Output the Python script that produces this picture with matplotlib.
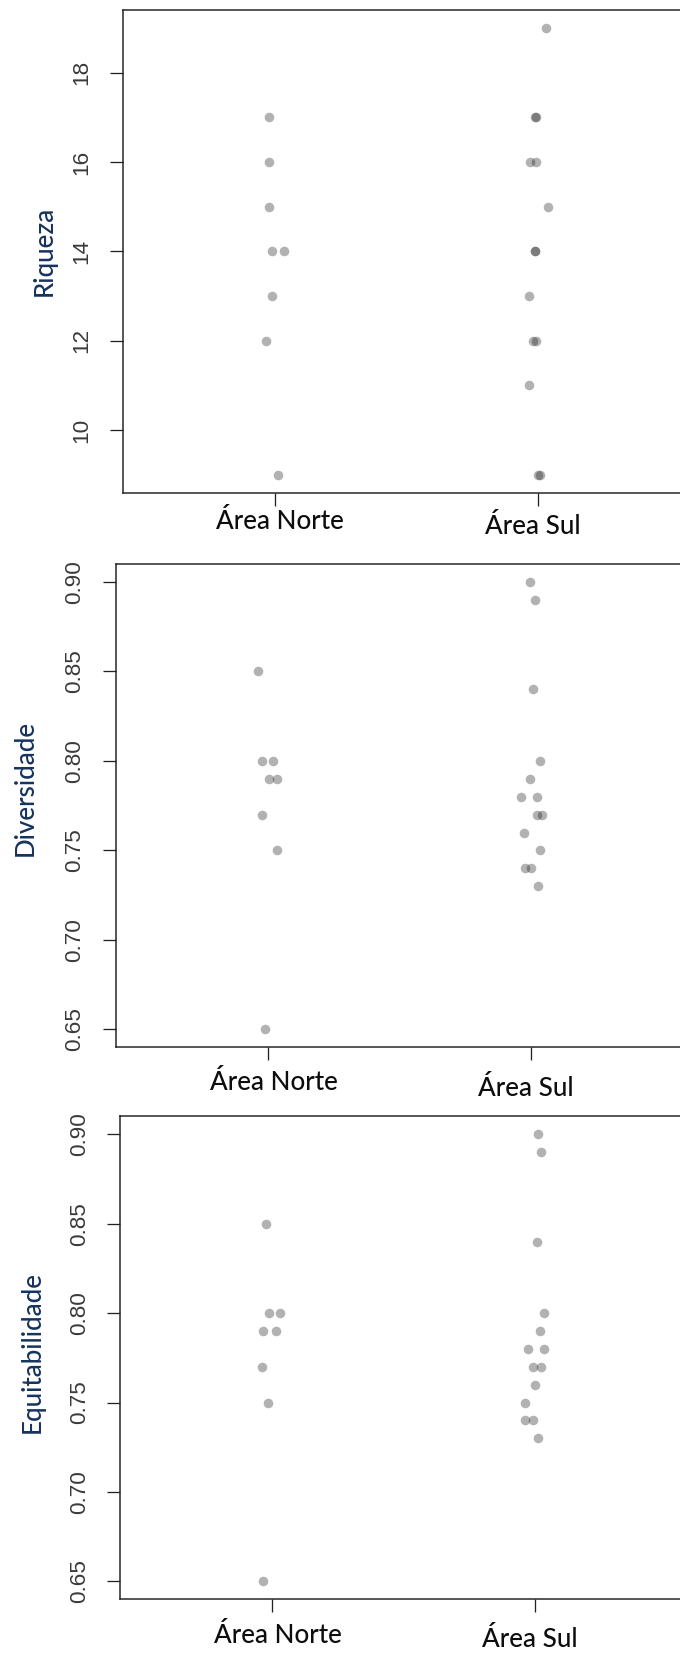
import matplotlib
matplotlib.use("Agg")
import matplotlib.pyplot as plt
import matplotlib.transforms as mtransforms

# ---------------- data ----------------
categories = ["Área Norte", "Área Sul"]

riq_norte = [17, 16, 15, 14, 14, 13, 12, 9]
riq_norte_jit = [-0.023, -0.023, -0.023, -0.010, 0.033, -0.010, -0.034, 0.010]
riq_sul = [19, 17, 17, 16, 16, 15, 14, 14, 13, 12, 12, 11, 9, 9]
riq_sul_jit = [0.032, -0.010, -0.008, -0.029, -0.006, 0.037, -0.012, -0.010,
               -0.034, -0.019, -0.006, -0.034, -0.001, 0.009]

div_norte = [0.85, 0.80, 0.80, 0.79, 0.79, 0.77, 0.75, 0.65]
div_norte_jit = [-0.039, -0.022, 0.018, 0.005, 0.033, -0.022, 0.033, -0.011]
div_sul = [0.90, 0.89, 0.84, 0.80, 0.79, 0.78, 0.78, 0.77, 0.77, 0.76, 0.75, 0.74, 0.74, 0.73]
div_sul_jit = [-0.005, 0.016, 0.006, 0.033, -0.005, -0.038, 0.023, 0.022, 0.040,
               -0.028, 0.033, -0.022, 0.0, 0.028]

equ_norte = [0.85, 0.80, 0.80, 0.79, 0.79, 0.77, 0.75, 0.65]
equ_norte_jit = [-0.024, -0.013, 0.028, -0.034, 0.015, -0.040, -0.018, -0.034]
equ_sul = [0.90, 0.89, 0.84, 0.80, 0.79, 0.78, 0.78, 0.77, 0.77, 0.76, 0.75, 0.74, 0.74, 0.73]
equ_sul_jit = [0.011, 0.022, 0.006, 0.033, 0.016, -0.027, 0.033, -0.010, 0.023,
               0.0, -0.038, -0.038, -0.010, 0.011]

riq_ticks = [10, 12, 14, 16, 18]
riq_ticklabels = ["10", "12", "14", "16", "18"]
idx_ticks = [0.65, 0.70, 0.75, 0.80, 0.85, 0.90]
idx_ticklabels = ["0.65", "0.70", "0.75", "0.80", "0.85", "0.90"]

ylabels = ["Riqueza", "Diversidade", "Equitabilidade"]

# ---------------- layout / style ----------------
W, H, DPI = 680, 1657, 100
fig = plt.figure(figsize=(W / DPI, H / DPI), dpi=DPI)
fig.patch.set_facecolor("white")

PX_PER_UNIT = 263.0
XLIM = (0.42, 2.58)

# (left, top, bottom) in pixels
panel_px = [(122.5, 10.0, 492.7), (115.5, 564.0, 1047.3), (119.8, 1116.3, 1599.3)]
ylims = [(8.6, 19.4), (0.64, 0.91), (0.64, 0.91)]
# x-label offsets: (dx px, baseline depth px below axis) for Norte, Sul
xlab_off = [[(5.2, 36.3), (-5.3, 41.6)],
            [(5.7, 42.7), (-5.7, 48.7)],
            [(5.1, 43.4), (-5.3, 47.4)]]
# y-label centres (px)
ylab_pos = [(44.0, 251.0), (25.0, 787.8), (32.5, 1351.7)]

LABEL_FONT = ["Lato", "DejaVu Sans"]
TICK_FONT = ["Liberation Sans", "DejaVu Sans"]
YLAB_COLOR = "#16335e"
PT = 72.0 / DPI  # points per pixel

panels = [
    (riq_norte, riq_norte_jit, riq_sul, riq_sul_jit, riq_ticks, riq_ticklabels),
    (div_norte, div_norte_jit, div_sul, div_sul_jit, idx_ticks, idx_ticklabels),
    (equ_norte, equ_norte_jit, equ_sul, equ_sul_jit, idx_ticks, idx_ticklabels),
]

for i, (vn, jn, vs, js, yt, ytl) in enumerate(panels):
    left, top, bot = panel_px[i]
    ax = fig.add_axes([left / W, 1 - bot / H, PX_PER_UNIT * (XLIM[1] - XLIM[0]) / W, (bot - top) / H])
    ax.set_xlim(*XLIM)
    ax.set_ylim(*ylims[i])

    xn = [1 + j for j in jn]
    xs = [2 + j for j in js]
    ax.scatter(xn, vn, s=(9.6 * PT) ** 2, c="black", alpha=0.3, linewidths=0, zorder=3)
    ax.scatter(xs, vs, s=(9.6 * PT) ** 2, c="black", alpha=0.3, linewidths=0, zorder=3)

    for side in ["top", "left", "bottom", "right"]:
        ax.spines[side].set_color("#222222")
        ax.spines[side].set_linewidth(1.5 * PT)

    ax.set_yticks(yt, ytl, rotation=90, ha="center", va="center",
                  family=TICK_FONT, fontsize=22.5 * PT, color="#3a3a3a")
    ax.tick_params(axis="y", length=13.3 * PT, width=1.3 * PT, pad=27.2 * PT, color="#222222")
    ax.set_xticks([1, 2])
    ax.tick_params(axis="x", length=12.7 * PT, width=1.3 * PT, color="#222222", labelbottom=False)

    base = mtransforms.blended_transform_factory(ax.transData, ax.transAxes)
    for k, cat in enumerate(categories):
        dx, dy = xlab_off[i][k]
        tr = mtransforms.offset_copy(base, fig=fig, x=dx, y=-dy, units="dots")
        ax.text(k + 1, 0, cat, transform=tr, ha="center", va="baseline",
                family=LABEL_FONT, fontsize=26.0 * PT, color="#0d0d0d", fontweight="medium")

    cx, cy = ylab_pos[i]
    fig.text(cx / W, 1 - cy / H, ylabels[i], rotation=90, ha="center", va="center",
             family=LABEL_FONT, fontsize=26.0 * PT, color=YLAB_COLOR, fontweight="medium")

fig.savefig("out.png", dpi=DPI, facecolor="white")
